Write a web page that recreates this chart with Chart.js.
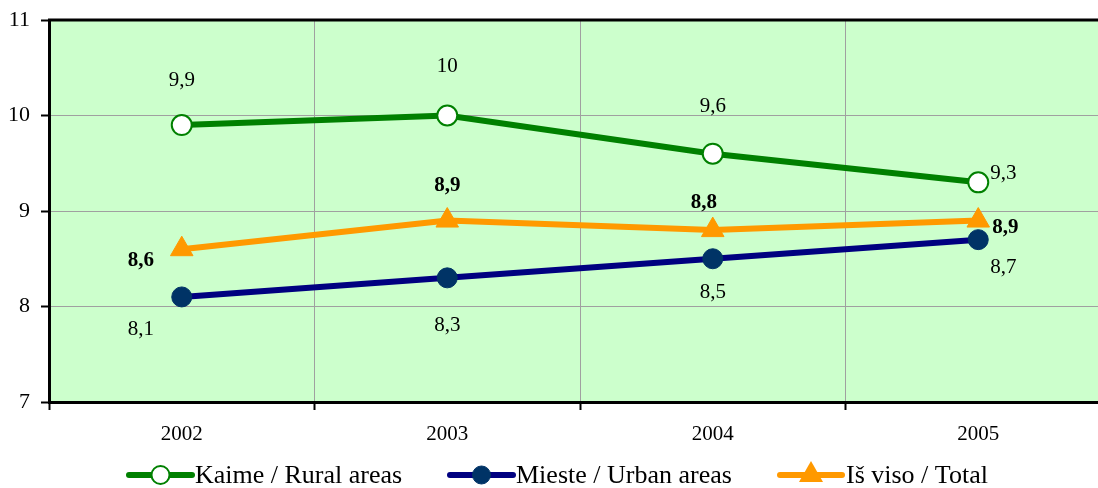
<!DOCTYPE html>
<html>
<head>
<meta charset="utf-8">
<script src="https://cdn.jsdelivr.net/npm/chart.js@4.4.0/dist/chart.umd.min.js"></script>
<style>
  html, body { margin: 0; padding: 0; background: #fff; overflow: hidden; }
  #wrap { width: 1125px; height: 488px; }
</style>
</head>
<body>
<div id="wrap"><canvas id="my-chart"></canvas></div>
<script>
'use strict';

// **** Data ****

let years = ['2002', '2003', '2004', '2005'];
let ruralValues = [9.9, 10, 9.6, 9.3];
let urbanValues = [8.1, 8.3, 8.5, 8.7];
let totalValues = [8.6, 8.9, 8.8, 8.9];
let yTicks = [7, 8, 9, 10, 11];
let seriesNames = ['Kaime / Rural areas', 'Mieste / Urban areas', 'Iš viso / Total'];

// **** Styles ****

let serif = '"Liberation Serif", "Times New Roman", serif';
let plotBg = '#CCFFCC';

// label offsets in px from each point (dx, dy)
let ruralLabelPos = [[0, -45], [0, -49], [0, -47], [25, -9]];
let urbanLabelPos = [[-41, 33], [0, 48], [0, 34], [25, 28]];
let totalLabelPos = [[-41, 11], [0, -35], [-9, -28], [27, 7]];

let ctx = document.getElementById('my-chart').getContext('2d');

// **** Plugins ****

let plotArea = {
  id: 'plotArea',
  beforeDraw(chart) {
    let a = chart.chartArea;
    let c = chart.ctx;
    c.save();
    c.fillStyle = plotBg;
    c.fillRect(a.left, a.top, a.right - a.left, a.bottom - a.top);
    c.restore();
  },
  afterDatasetsDraw(chart) {
    let a = chart.chartArea;
    let c = chart.ctx;
    c.save();
    c.strokeStyle = '#000';
    c.lineWidth = 3;
    c.beginPath();
    c.moveTo(a.left - 1, a.top);
    c.lineTo(a.right, a.top);
    c.stroke();
    c.restore();
  }
};

let pointLabels = {
  id: 'pointLabels',
  afterDatasetsDraw(chart) {
    let c = chart.ctx;
    c.save();
    c.textAlign = 'center';
    c.textBaseline = 'middle';
    c.fillStyle = '#000';
    chart.data.datasets.forEach(function(ds, i) {
      let meta = chart.getDatasetMeta(i);
      c.font = (ds.labelBold ? 'bold ' : '') + '21px ' + serif;
      meta.data.forEach(function(pt, j) {
        let off = ds.labelPos[j];
        let txt = String(ds.data[j]).replace('.', ',');
        c.fillText(txt, pt.x + off[0], pt.y + off[1]);
      });
    });
    c.restore();
  }
};

let lineLegend = {
  id: 'lineLegend',
  afterDraw(chart) {
    let c = chart.ctx;
    let y = 475;
    let items = [
      { x0: 129, x1: 192, tx: 195 },
      { x0: 450, x1: 513, tx: 516 },
      { x0: 780, x1: 842, tx: 846 }
    ];
    c.save();
    chart.data.datasets.forEach(function(ds, i) {
      let it = items[i];
      c.strokeStyle = ds.borderColor;
      c.lineWidth = 6;
      c.lineCap = 'round';
      c.beginPath();
      c.moveTo(it.x0, y);
      c.lineTo(it.x1, y);
      c.stroke();
      let mx = (it.x0 + it.x1) / 2;
      c.fillStyle = ds.pointBackgroundColor;
      c.strokeStyle = ds.pointBorderColor;
      c.lineWidth = ds.pointBorderWidth;
      c.beginPath();
      if (ds.pointStyle === 'triangle') {
        c.moveTo(mx, y - 14);
        c.lineTo(mx + 12, y + 7);
        c.lineTo(mx - 12, y + 7);
        c.closePath();
        c.fill();
      } else {
        c.arc(mx, y, 9, 0, Math.PI * 2);
        c.fill();
        c.stroke();
      }
      c.fillStyle = '#000';
      c.font = '26px ' + serif;
      c.textAlign = 'left';
      c.textBaseline = 'middle';
      c.fillText(ds.label, it.tx, y + 1);
    });
    c.restore();
  }
};

// **** Chart ****

let myChartObj = {
  type: 'line',
  data: {
    labels: years,
    datasets: [{
      label: seriesNames[0],
      data: ruralValues,
      borderColor: '#008000',
      borderWidth: 6,
      pointStyle: 'circle',
      pointRadius: 10,
      pointBackgroundColor: '#FFFFFF',
      pointBorderColor: '#008000',
      pointBorderWidth: 2,
      labelPos: ruralLabelPos,
      labelBold: false
    },
    {
      label: seriesNames[1],
      data: urbanValues,
      borderColor: '#000080',
      borderWidth: 6,
      pointStyle: 'circle',
      pointRadius: 10,
      pointBackgroundColor: '#003366',
      pointBorderColor: '#003366',
      pointBorderWidth: 1,
      labelPos: urbanLabelPos,
      labelBold: false
    },
    {
      label: seriesNames[2],
      data: totalValues,
      borderColor: '#FF9900',
      borderWidth: 6,
      pointStyle: 'triangle',
      pointRadius: 13,
      pointBackgroundColor: '#FF9900',
      pointBorderColor: '#FF9900',
      pointBorderWidth: 1,
      labelPos: totalLabelPos,
      labelBold: true
    }]
  },
  options: {
    responsive: true,
    maintainAspectRatio: false,
    animation: false,
    layout: { padding: { top: 20, right: 0, left: 0, bottom: 0 } },
    plugins: {
      legend: { display: false },
      tooltip: { enabled: false }
    },
    scales: {
      x: {
        offset: true,
        afterFit(scale) { scale.height = 86; },
        grid: {
          offset: true,
          color: '#A0A0A0',
          tickColor: '#000',
          tickLength: 8,
          lineWidth: 1,
          tickWidth: 2
        },
        border: { color: '#000', width: 3 },
        ticks: {
          color: '#000',
          font: { family: serif, size: 21 },
          padding: 12,
          maxRotation: 0
        }
      },
      y: {
        min: 7,
        max: 11,
        afterFit(scale) {
          scale.width = 49;
          scale.paddingTop = 0;
          scale.paddingBottom = 0;
        },
        afterBuildTicks(scale) {
          scale.ticks = yTicks.map(function(v) { return { value: v }; });
        },
        grid: {
          color: '#A0A0A0',
          tickColor: '#000',
          tickLength: 8,
          tickWidth: 2
        },
        border: { color: '#000', width: 3 },
        ticks: {
          color: '#000',
          font: { family: serif, size: 22 },
          padding: 11
        }
      }
    }
  },
  plugins: [plotArea, pointLabels, lineLegend]
};

new Chart(ctx, myChartObj);
</script>
</body>
</html>
